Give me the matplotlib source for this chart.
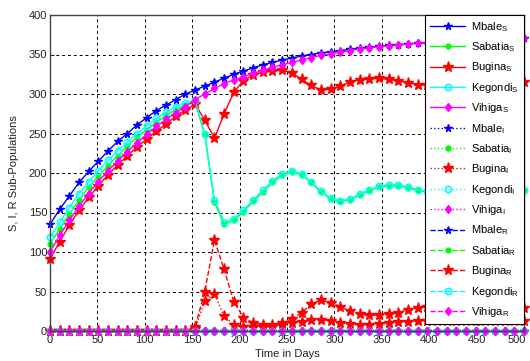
import numpy as np
import matplotlib
matplotlib.use("Agg")
import matplotlib.pyplot as plt
import matplotlib.transforms as mtransforms

plt.rcParams['font.family'] = ['Liberation Sans', 'DejaVu Sans']
plt.rcParams['mathtext.fontset'] = 'custom'
plt.rcParams['mathtext.rm'] = 'Liberation Sans'
plt.rcParams['mathtext.it'] = 'Liberation Sans'

# time grid (50 samples over 500 days)
days = np.linspace(0, 500, 50)

mbale_S = [135, 154, 171, 188, 202, 215, 228, 240, 250, 261, 270, 279, 286, 293, 300, 305,
           310, 315, 320, 325, 329, 333, 337, 340, 343, 345.5, 348, 350, 352, 353.5, 355,
           356.5, 358, 359, 360.5, 361.5, 362.5, 363.5, 364.5, 365, 366, 366.5, 367, 367.5,
           368, 368.5, 369, 369.5, 370, 370.5]
sabatia_S = [110, 129, 148, 166, 182, 196, 209, 222, 234, 245, 255, 264, 273, 280, 286, 290,
             248, 163, 135, 140, 151, 164, 176, 188, 197, 201, 198, 188, 176, 167, 164, 166,
             172, 178, 182, 184, 184, 181, 178, 176, 175, 175, 176, 177, 178, 178, 178, 178,
             177.5, 177.5]
bugina_S = [91, 113, 134, 153, 169, 184, 198, 210, 222, 233, 243, 253, 262, 272, 280, 287,
            267, 244, 275, 302, 317, 324, 327.5, 329, 330, 327, 318.5, 311, 305, 306, 310,
            315, 318, 319, 320, 318.5, 316.5, 314.5, 312, 311, 310, 310, 310.5, 311, 312,
            313, 314, 314.5, 315, 315]
kegondi_S = [118.6, 137.5, 156, 174, 189, 203, 216, 228, 239, 250, 260, 269, 277, 284, 289,
             292, 250, 166, 138, 142, 153, 166, 178, 190, 199, 202, 199, 189, 177, 168, 165,
             167, 173, 179, 183, 185, 185, 182, 179, 177, 176, 176, 177, 178, 178.5, 179, 179,
             178.5, 178, 178]
vihiga_S = [100, 121, 140, 158, 174, 189, 203, 215, 227, 238, 249, 259, 268, 276, 284, 293,
            300, 307, 313, 318, 322, 326, 330, 334, 337, 340, 343, 346, 349, 351, 353, 355,
            357, 358.5, 360, 361, 362, 363, 364, 365, 366, 366.5, 367, 367.5, 368, 368.5,
            369, 369.5, 370, 370.5]

mbale_I = [0.0] * 50
sabatia_I = [0.0] * 50
bugina_I = [0, 0, 0, 0, 0, 0, 0, 0, 0, 0, 0, 0, 0, 0, 0, 3, 38, 47, 19, 7.5, 5, 5, 5.5, 5.5,
            8, 10, 11.5, 14, 14, 13, 10.5, 8.5, 7.6, 7.6, 8.4, 9.7, 11, 12, 13, 13, 13, 13,
            12.8, 12.6, 12.5, 12.5, 12.5, 12.5, 12.5, 12.5]
kegondi_I = [0.0] * 50
vihiga_I = [0.0] * 50

mbale_R = [0.0] * 50
sabatia_R = [0.0] * 50
bugina_R = [0, 0, 0, 0, 0, 0, 0, 0, 0, 0, 0, 0, 0, 0, 0, 5, 50, 115, 78, 37, 17, 10, 8, 7.5,
            9.5, 15, 23, 34, 39, 36, 31, 25, 21, 20, 20, 21, 23, 27, 29.5, 31, 31.5, 31.5, 31,
            30.5, 30, 29.5, 29, 29, 28.5, 28.5]
kegondi_R = [0.0] * 50
vihiga_R = [0.0] * 50

names = ['Mbale', 'Sabatia', 'Bugina', 'Kegondi', 'Vihiga']
colors = ['#0000ff', '#00ff00', '#ff0000', '#00ffff', '#ff00ff']
markers = [dict(marker='*', ms=5.5),
           dict(marker='.', ms=7),
           dict(marker='*', ms=8),
           dict(marker='o', ms=4.5, mfc='none', mew=1.2),
           dict(marker='d', ms=4.5)]

S = [mbale_S, sabatia_S, bugina_S, kegondi_S, vihiga_S]
I = [mbale_I, sabatia_I, bugina_I, kegondi_I, vihiga_I]
R = [mbale_R, sabatia_R, bugina_R, kegondi_R, vihiga_R]

fig = plt.figure(figsize=(5.30, 3.61), dpi=100)
ax = fig.add_axes([50/530, 1-331/361, 474/530, 316/361])

for group, sub, ls in [(S, 'S', '-'), (I, 'I', ':'), (R, 'R', '--')]:
    for name, col, mk, vals in zip(names, colors, markers, group):
        ax.plot(days, vals, color=col, linestyle=ls, lw=1.0,
                label=name + r'$_\mathrm{' + sub + '}$', clip_on=False, **mk)

ax.set_xlim(0, 500)
ax.set_ylim(0, 400)
ax.set_xticks(np.arange(0, 501, 50))
ax.set_yticks(np.arange(0, 401, 50))
ax.grid(True, color='black', linestyle=(0, (3, 3)), lw=0.7)
ax.tick_params(direction='in', length=3, labelsize=8, colors='#222222')
ax.tick_params(axis='x', pad=3)
ax.tick_params(axis='y', pad=2)
for sp in ax.spines.values():
    sp.set_color('#444444')
    sp.set_linewidth(1.0)

# keep the last x tick label inside the figure
lbls = ax.get_xticklabels()
lbls[-1].set_transform(lbls[-1].get_transform() +
                       mtransforms.ScaledTranslation(-7/100, 0, fig.dpi_scale_trans))

ax.set_xlabel('Time in Days', fontsize=8, labelpad=3, color='#222222')
ax.set_ylabel('S, I, R Sub-Populations', fontsize=8, labelpad=7, color='#222222')

leg = ax.legend(loc='upper right', fontsize=8, frameon=True, fancybox=False,
                borderaxespad=0, handlelength=3.2, handletextpad=0.5,
                labelspacing=0.58, borderpad=0.45, framealpha=1)
leg.get_frame().set_edgecolor('black')
leg.get_frame().set_linewidth(0.8)

fig.savefig('out.png', dpi=100)
